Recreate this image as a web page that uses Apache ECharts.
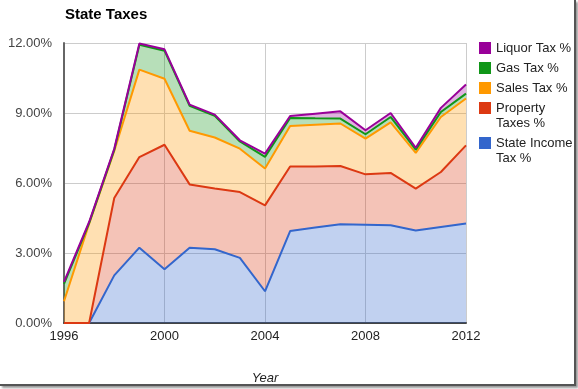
<!DOCTYPE html>
<html>
<head>
<meta charset="utf-8">
<script src="https://cdn.jsdelivr.net/npm/echarts@6/dist/echarts.min.js"></script>
<style>
html,body{margin:0;padding:0;background:#fff;}
#wrap{position:absolute;left:0;top:0;width:574px;height:384px;border-right:2px solid #555;border-bottom:2px solid #555;box-shadow:2px 2px 2px #999;background:#fff;}
#chart{width:574px;height:384px;}
</style>
</head>
<body>
<div id="wrap"><div id="chart"></div></div>
<script>
const years = ['1996','1997','1998','1999','2000','2001','2002','2003','2004','2005','2006','2007','2008','2009','2010','2011','2012'];
const stateIncomeTax = [0,0,2.04,3.23,2.30,3.23,3.16,2.79,1.36,3.94,4.09,4.23,4.21,4.19,3.96,4.11,4.26];
const propertyTaxes  = [0,0,3.32,3.88,5.34,2.71,2.60,2.82,3.68,2.77,2.62,2.50,2.16,2.24,1.80,2.36,3.35];
const salesTax       = [0.93,4.26,2.01,3.75,2.83,2.30,2.19,1.86,1.58,1.73,1.79,1.82,1.53,2.17,1.53,2.36,2.01];
const gasTax         = [0.75,0.02,0.05,1.06,1.20,1.07,0.93,0.31,0.50,0.35,0.27,0.21,0.19,0.23,0.14,0.21,0.21];
const liquorTax      = [0.08,0.05,0.05,0.06,0.06,0.05,0.05,0.05,0.14,0.08,0.20,0.31,0.17,0.17,0.08,0.18,0.39];
const yTicks = [0,3,6,9,12];
const xTickLabels = ['1996','2000','2004','2008','2012'];

const seriesDefs = [
  {name:'State Income Tax %', data:stateIncomeTax, color:'#3366cc'},
  {name:'Property Taxes %', data:propertyTaxes, color:'#dc3912'},
  {name:'Sales Tax %', data:salesTax, color:'#ff9900'},
  {name:'Gas Tax %', data:gasTax, color:'#109618'},
  {name:'Liquor Tax %', data:liquorTax, color:'#990099'}
];

const FONT = 'Arial, "Liberation Sans", sans-serif';
const chart = echarts.init(document.getElementById('chart'));

function mkLegend(name, top, label){
  return {
    data:[name], orient:'vertical', left:479, top:top, padding:0,
    icon:'rect', itemWidth:12, itemHeight:12, itemGap:5,
    selectedMode:false,
    formatter:function(){return label;},
    textStyle:{fontFamily:FONT,fontSize:13,color:'#222',lineHeight:15}
  };
}

chart.setOption({
  animation:false,
  title:{text:'State Taxes',left:60,top:2,textStyle:{fontFamily:FONT,fontSize:15,fontWeight:'bold',color:'#000'}},
  grid:{left:64,top:43,width:402,height:280,containLabel:false,outerBoundsMode:'none'},
  legend:[
    mkLegend('Liquor Tax %',40.5,'Liquor Tax %'),
    mkLegend('Gas Tax %',60.5,'Gas Tax %'),
    mkLegend('Sales Tax %',80.5,'Sales Tax %'),
    mkLegend('Property Taxes %',85.5,' \nProperty\nTaxes %'),
    mkLegend('State Income Tax %',120.5,' \nState Income\nTax %')
  ],
  xAxis:{
    type:'category', data:years, boundaryGap:false,
    name:'Year', nameLocation:'middle', nameGap:49,
    nameTextStyle:{fontFamily:FONT,fontSize:13,fontStyle:'italic',color:'#222'},
    axisLine:{show:true,lineStyle:{color:'#444',width:2}},
    axisTick:{show:false},
    axisLabel:{fontFamily:FONT,fontSize:13,color:'#222',margin:7,
      interval:function(i,v){return xTickLabels.indexOf(v)>=0;}},
    splitLine:{show:true,interval:function(i,v){return xTickLabels.indexOf(v)>=0;},lineStyle:{color:'#ccc',width:1}}
  },
  yAxis:{
    type:'value', min:0, max:12, interval:3,
    axisLine:{show:true,lineStyle:{color:'#666',width:2}},
    axisTick:{show:false},
    axisLabel:{fontFamily:FONT,fontSize:13,color:'#444',margin:12,formatter:v=>v.toFixed(2)+'%'},
    splitLine:{show:true,lineStyle:{color:'#ccc',width:1}}
  },
  series: seriesDefs.map(s=>({
    name:s.name, type:'line', stack:'total', symbol:'none',
    data: s.data,
    itemStyle:{color:s.color},
    lineStyle:{color:s.color,width:2},
    areaStyle:{color:s.color,opacity:0.3}
  }))
});
</script>
</body>
</html>
